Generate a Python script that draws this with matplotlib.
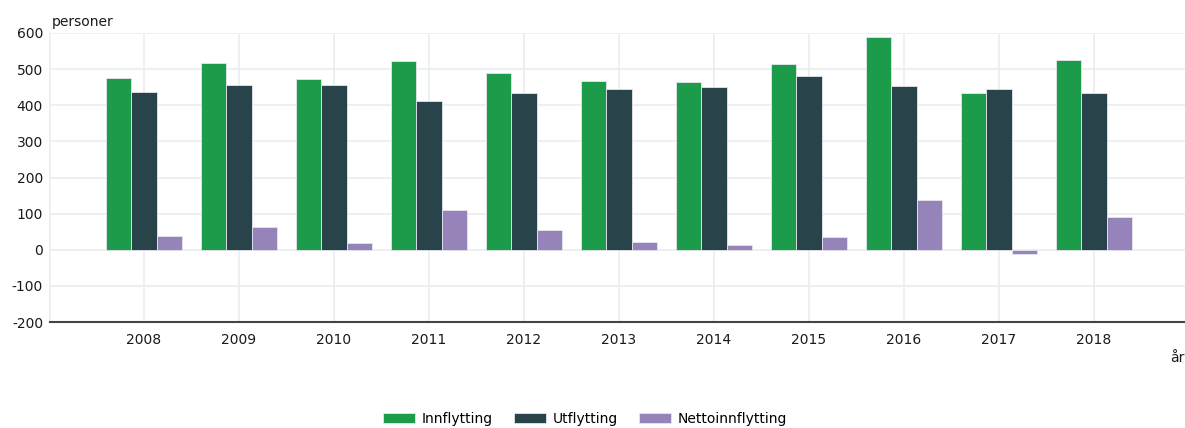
import numpy as np
import matplotlib
matplotlib.use('Agg')
import matplotlib.pyplot as plt

plt.rcParams['font.family'] = ['DejaVu Sans']
plt.rcParams['axes.unicode_minus'] = False

years = ['2008', '2009', '2010', '2011', '2012', '2013', '2014', '2015', '2016', '2017', '2018']
innflytting = [476, 517, 474, 522, 489, 467, 464, 514, 590, 434, 525]
utflytting = [437, 455, 455, 413, 434, 446, 450, 480, 452, 446, 434]
netto = [39, 62, 19, 109, 55, 21, 14, 34, 138, -12, 91]

series = [
    ('Innflytting', innflytting, '#1c9c4a'),
    ('Utflytting', utflytting, '#284349'),
    ('Nettoinnflytting', netto, '#9683ba'),
]

fig = plt.figure(figsize=(11.85, 4.28), dpi=100)
ax = fig.add_axes([50 / 1185, 1 - 322 / 428, 1 - 50 / 1185, (322 - 33) / 428])

x = np.arange(len(years))
w = 0.268
for i, (name, vals, col) in enumerate(series):
    ax.bar(x + (i - 1) * w, vals, width=w, color=col, label=name,
           edgecolor='#e6e6ee', linewidth=0.6, zorder=3)

ax.set_xlim(-0.99, 10.96)
ax.set_ylim(-200, 600)
ax.set_yticks(range(-200, 601, 100))
ax.set_xticks(x)
ax.set_xticklabels(years)
ax.grid(True, color='#e9eeee', linewidth=1.2, zorder=0)
ax.tick_params(axis='both', length=0, labelsize=10, colors='#1a1a1a')
ax.tick_params(axis='x', pad=8)
ax.tick_params(axis='y', pad=5)

for s in ['top', 'right']:
    ax.spines[s].set_visible(False)
ax.spines['left'].set_color('#e9eeee')
ax.spines['left'].set_linewidth(1.2)
ax.spines['bottom'].set_color('#444444')
ax.spines['bottom'].set_linewidth(1.5)
ax.spines['bottom'].set_zorder(4)

fig.text(52 / 1185, 1 - 22 / 428, 'personer', fontsize=10, color='#1a1a1a', va='center', ha='left')
fig.text(1170 / 1185, 1 - 358 / 428, 'år', fontsize=10, color='#1a1a1a', va='center', ha='left')

fig.legend(loc='center', bbox_to_anchor=(585 / 1185, 1 - 419 / 428), ncol=3, frameon=False,
           fontsize=10, handlelength=2.3, handleheight=0.7, columnspacing=1.5, handletextpad=0.5)

fig.savefig('out.png', dpi=100)
